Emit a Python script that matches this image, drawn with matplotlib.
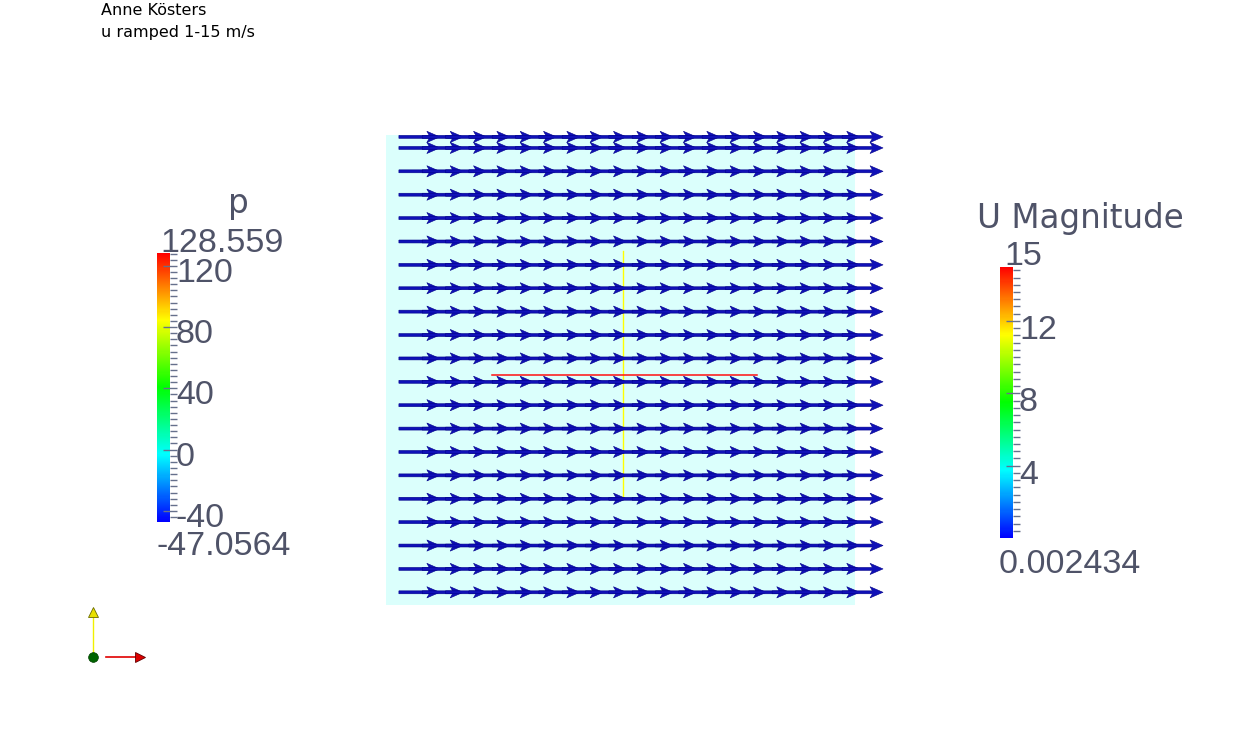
import numpy as np
import matplotlib
matplotlib.use("Agg")
import matplotlib.pyplot as plt
from matplotlib.colors import LinearSegmentedColormap, Normalize
from matplotlib.cm import ScalarMappable
from matplotlib.ticker import FixedLocator
from matplotlib.transforms import offset_copy

"""   values read off the ParaView screenshot   """

author = "Anne Kösters"
case_note = "u ramped 1-15 m/s"

p_name = "p"
p_range = [-47.0564, 128.559]
p_labels = [-40, 0, 40, 80, 120]
p_minor_step = 4

u_name = "U Magnitude"
u_range = [0.002434, 15.0]
u_labels = [4, 8, 12]
u_minor_step = 0.4

# 20 x 20 domain, pressure about zero everywhere
domain_x = [0.0, 20.0]
domain_y = [0.0, 20.0]
p_field = [[0.0]]

# glyph seeds: 20 x 20 grid plus one extra row on the top boundary
seed_x = np.linspace(0.55, 19.45, 20)
seed_y = list(np.linspace(0.54, 19.45, 20)) + [19.92]
u_speed = 15.0      # m/s, same for every glyph
v_speed = 0.0

plate_x = [4.5, 15.8]       # red plate
plate_y = [9.77, 9.77]
probe_x = [10.1, 10.1]      # yellow probe line
probe_y = [4.5, 15.05]

"""   figure setup   """

W, H = 1248, 752
fig = plt.figure(figsize=(W / 100, H / 100), dpi=100)
fig.patch.set_facecolor("white")

def fx(x):
    return x / W

def fy(y):
    return 1 - y / H

rainbow = LinearSegmentedColormap.from_list(
    "pv_rainbow", ["#0000ff", "#00ffff", "#00ff00", "#ffff00", "#ff0000"])

text_col = "#4f5368"
tick_col = "#66708c"
num_font = "Liberation Sans"
title_font = "DejaVu Sans"

"""   domain + glyphs   """

ax = fig.add_axes([fx(386), fy(605), 469 / W, 470 / H])
ax.set_xlim(domain_x)
ax.set_ylim(domain_y)
ax.axis("off")

ax.pcolormesh(domain_x, domain_y, p_field, cmap=rainbow,
              vmin=p_range[0], vmax=p_range[1], alpha=0.14, shading="flat")

ax.plot(probe_x, probe_y, color="#ffff00", lw=1.0, zorder=2)

X, Y = np.meshgrid(seed_x, seed_y)
U = np.full(X.shape, u_speed)
V = np.full(X.shape, v_speed)
ax.quiver(X, Y, U, V, angles="xy", scale_units="xy", scale=8.6, units="xy",
          width=0.125, headwidth=3.8, headlength=4.4, headaxislength=3.6,
          pivot="tail", color="#1010b8", edgecolor="#000088", linewidth=0.4,
          clip_on=False, zorder=3)

ax.plot(plate_x, plate_y, color="#ff1010", lw=1.1, zorder=4)

"""   scalar bars   """

def scalar_bar(rect, vrange, labels, step, lab_dy):
    cax = fig.add_axes(rect)
    sm = ScalarMappable(Normalize(vrange[0], vrange[1]), cmap=rainbow)
    cb = fig.colorbar(sm, cax=cax)
    cb.outline.set_visible(False)
    cb.set_ticks(labels, labels=[""] * len(labels))
    minor = np.arange(np.ceil(vrange[0] / step) * step, vrange[1], step)
    cax.yaxis.set_minor_locator(FixedLocator(minor))
    cax.tick_params(which="major", direction="inout", length=10, width=1,
                    color=tick_col, labelright=False)
    cax.tick_params(which="minor", direction="out", length=5, width=1,
                    color=tick_col)
    trans = offset_copy(cax.get_yaxis_transform(), fig=fig, x=6, y=lab_dy,
                        units="dots")
    for v in labels:
        cax.text(1, v, f"{v}", transform=trans, ha="left", va="baseline",
                 fontsize=24.5, family=num_font, color=text_col)
    return cax

scalar_bar([fx(157), fy(521.7), 13 / W, (521.7 - 252.7) / H],
           p_range, p_labels, p_minor_step, -16)
scalar_bar([fx(1000), fy(538), 13 / W, (538 - 266.7) / H],
           u_range, u_labels, u_minor_step, -18)

fig.text(fx(238), fy(213), p_name, ha="center", va="baseline",
         fontsize=23.5, family=title_font, color=text_col)
fig.text(fx(160), fy(251.7), f"{p_range[1]:g}", ha="left", va="baseline",
         fontsize=24.5, family=num_font, color=text_col)
fig.text(fx(156), fy(555), f"{p_range[0]:g}", ha="left", va="baseline",
         fontsize=24.5, family=num_font, color=text_col)

fig.text(fx(977), fy(228), u_name, ha="left", va="baseline",
         fontsize=23.5, family=title_font, color=text_col)
fig.text(fx(1004), fy(265), f"{u_range[1]:g}", ha="left", va="baseline",
         fontsize=24.5, family=num_font, color=text_col)
fig.text(fx(999), fy(573), f"{u_range[0]:g}", ha="left", va="baseline",
         fontsize=24.5, family=num_font, color=text_col)

"""   annotation text + orientation triad   """

fig.text(fx(101), fy(15), author, ha="left", va="baseline",
         fontsize=11.5, family=title_font, color="black")
fig.text(fx(101), fy(37), case_note, ha="left", va="baseline",
         fontsize=11.5, family=title_font, color="black")

ov = fig.add_axes([0, 0, 1, 1])
ov.set_xlim(0, W)
ov.set_ylim(H, 0)
ov.axis("off")
ov.patch.set_alpha(0)

triad_o = (93, 657)
ov.plot([triad_o[0], triad_o[0]], [triad_o[1], triad_o[1] - 42],
        color="#f0f000", lw=1)
ov.plot(triad_o[0], triad_o[1] - 45, marker="^", ms=7, color="#e8e000",
        mec="#6b6b00", mew=0.6)
ov.plot([triad_o[0] + 13, triad_o[0] + 44], [triad_o[1], triad_o[1]],
        color="#e00000", lw=1.2)
ov.plot(triad_o[0] + 47, triad_o[1], marker=">", ms=7, color="#dd0000",
        mec="#600000", mew=0.6)
ov.plot(triad_o[0], triad_o[1], marker="o", ms=7, color="#006400",
        mec="#004000", mew=0.5)

fig.savefig("out.png", dpi=100)
